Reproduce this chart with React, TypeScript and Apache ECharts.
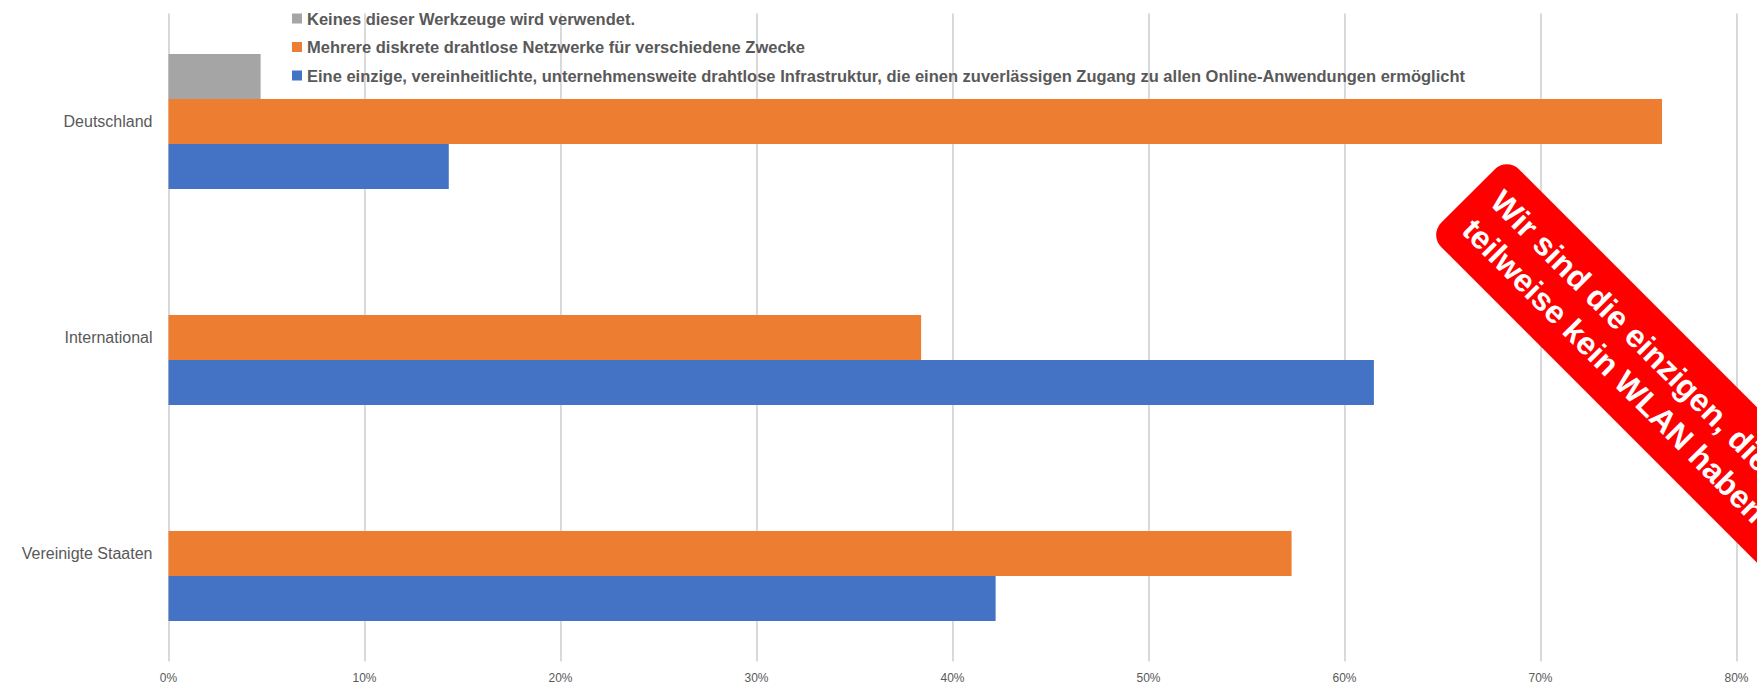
import React, { useEffect, useRef } from 'react';
import * as echarts from 'echarts';

const categories = ['Deutschland', 'International', 'Vereinigte Staaten'];
const seriesNames = [
  'Keines dieser Werkzeuge wird verwendet.',
  'Mehrere diskrete drahtlose Netzwerke für verschiedene Zwecke',
  'Eine einzige, vereinheitlichte, unternehmensweite drahtlose Infrastruktur, die einen zuverlässigen Zugang zu allen Online-Anwendungen ermöglicht',
];
const keinesValues = [4.7, null, null];
const mehrereValues = [76.2, 38.4, 57.3];
const eineValues = [14.3, 61.5, 42.2];
const seriesColors = ['#a5a5a5', '#ed7d31', '#4472c4'];
const xMin = 0;
const xMax = 80;
const xInterval = 10;
const bannerLines = ['Wir sind die einzigen, die', 'teilweise kein WLAN haben'];

const FONT = '"Liberation Sans", Arial, sans-serif';

export default function App() {
  const ref = useRef<HTMLDivElement>(null);
  useEffect(() => {
    if (!ref.current) return;
    const chart = echarts.init(ref.current, undefined, { renderer: 'svg' });
    const valuesList = [keinesValues, mehrereValues, eineValues];
    chart.setOption({
      animation: false,
      backgroundColor: '#ffffff',
      grid: { left: 168.5, right: 20.5, top: 13.5, bottom: 23.5, containLabel: false },
      legend: {
        orient: 'vertical',
        left: 287,
        top: 5,
        itemWidth: 10,
        itemHeight: 10,
        itemGap: 11.5,
        icon: 'rect',
        selectedMode: false,
        data: seriesNames,
        textStyle: { fontSize: 16.5, fontWeight: 'bold', color: '#595959', fontFamily: FONT, lineHeight: 16 },
      },
      xAxis: {
        type: 'value',
        min: xMin,
        max: xMax,
        interval: xInterval,
        axisLine: { show: false },
        axisTick: { show: false },
        axisLabel: { formatter: '{value}%', fontSize: 12, color: '#595959', fontFamily: FONT, margin: 10 },
        splitLine: { show: true, lineStyle: { color: '#d9d9d9', width: 2 } },
      },
      yAxis: {
        type: 'category',
        data: categories,
        inverse: true,
        axisLine: { show: false },
        axisTick: { show: false },
        axisLabel: { fontSize: 16, color: '#595959', fontFamily: FONT, margin: 16 },
        splitLine: { show: false },
      },
      series: seriesNames.map((name, i) => ({
        name,
        type: 'bar',
        data: valuesList[i],
        barGap: '0%',
        barCategoryGap: '37.5%',
        itemStyle: { color: seriesColors[i] },
      })),
      graphic: {
        elements: [
          {
            type: 'group',
            x: 1468,
            y: 196,
            rotation: -Math.PI / 4,
            z: 100,
            zlevel: 1,
            children: [
              {
                type: 'rect',
                z: 100,
                zlevel: 1,
                shape: { x: 0, y: -55, width: 700, height: 110, r: 17 },
                style: { fill: '#ff0000' },
              },
              {
                type: 'text',
                z: 101,
                zlevel: 1,
                x: 20,
                y: 0,
                style: {
                  text: bannerLines.join('\n'),
                  fill: '#ffffff',
                  fontSize: 32,
                  fontWeight: 'bold',
                  fontFamily: FONT,
                  align: 'left',
                  verticalAlign: 'middle',
                  lineHeight: 40,
                },
              },
            ],
          },
        ],
      },
    });
    return () => chart.dispose();
  }, []);
  return <div ref={ref} style={{ position: 'absolute', left: 0, top: 0, width: 1757, height: 685 }} />;
}
